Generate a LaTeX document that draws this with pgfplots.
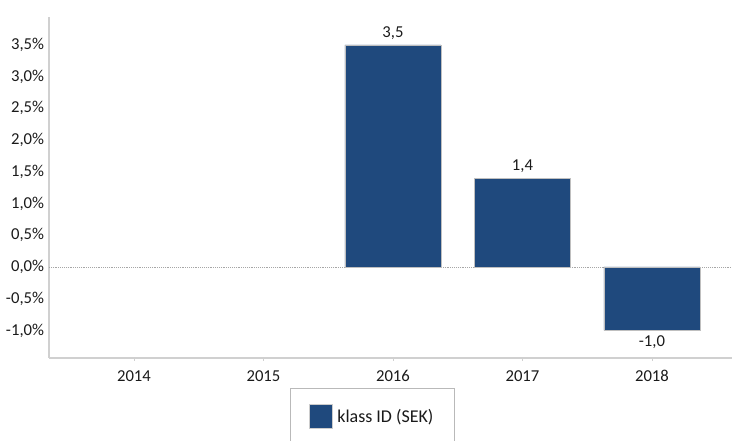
\documentclass[border=0pt]{standalone}
\usepackage{pgfplots}
\pgfplotsset{compat=1.18}
\usepackage{fontspec}
\setmainfont{Carlito}
\definecolor{barblue}{HTML}{1F497D}
\definecolor{axgray}{HTML}{D0D0D0}
\definecolor{txt}{HTML}{1A1A1A}
\begin{document}
\begin{tikzpicture}[font=\fontsize{12.5}{14}\selectfont, text=txt]
\useasboundingbox (-36.75pt,-62.25pt) rectangle (512.25pt,268.5pt);
\begin{axis}[
  at={(0pt,0pt)}, anchor=south west,
  scale only axis, width=512.25pt, height=255.75pt,
  ybar, bar width=72pt,
  xmin=-0.656, xmax=4.618, ymin=-1.435, ymax=3.94,
  axis lines*=left,
  axis line style={draw=axgray, line width=0.8pt, -},
  xtick={0,1,2,3,4}, xticklabels={2014,2015,2016,2017,2018},
  ytick={-1,-0.5,0,0.5,1,1.5,2,2.5,3,3.5},
  /pgf/number format/assume math mode=true,
  yticklabel={\pgfmathprintnumber[fixed,fixed zerofill,precision=1,use comma]{\tick}\%},
  yticklabel style={inner sep=0pt, xshift=-3.5pt},
  xticklabel style={inner sep=0pt, yshift=-7pt},
  y tick style={draw=none},
  x tick style={draw=axgray, line width=0.6pt},
  major tick length=2pt,
  extra y ticks={0}, extra y tick labels={},
  extra y tick style={grid=major, major grid style={densely dotted, gray!70, line width=0.5pt}, tick style={draw=none}},
  nodes near coords,
  nodes near coords style={/pgf/number format/fixed, /pgf/number format/fixed zerofill, /pgf/number format/precision=1, /pgf/number format/use comma, text=txt, inner sep=4pt},
  legend style={at={(0.353,-0.088)}, anchor=north west, draw=gray!55, line width=0.6pt,
    inner xsep=14pt, inner ysep=12pt, font=\fontsize{13.5}{15}\selectfont, text=txt,
    /tikz/every odd column/.append style={column sep=1.5pt}},
  legend image code/.code={\fill[barblue, draw=gray!40] (0pt,-9pt) rectangle (17.25pt,9pt); \path (0pt,-45pt);},
  legend cell align=left,
]
\addplot[fill=barblue, draw=white!75!black, line width=0.4pt] coordinates {(2,3.5) (3,1.4) (4,-1.0)};
\addlegendentry{klass ID (SEK)}
\end{axis}
\end{tikzpicture}
\end{document}
